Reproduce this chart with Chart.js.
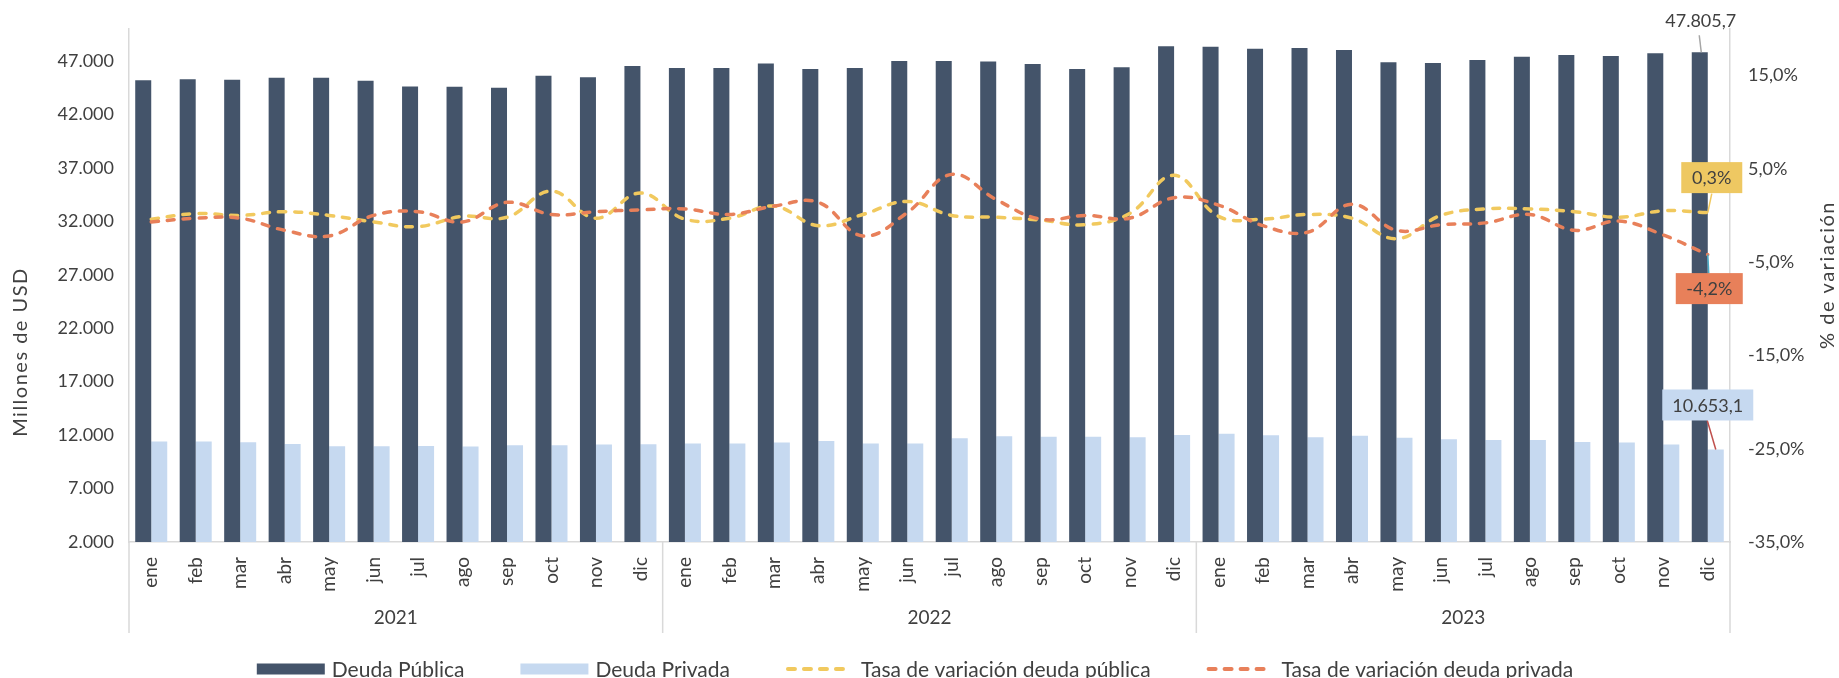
<!DOCTYPE html>
<html>
<head>
<meta charset="utf-8">
<script src="https://cdn.jsdelivr.net/npm/chart.js@4.4.0/dist/chart.umd.min.js"></script>
<style>
  html, body { margin: 0; padding: 0; background: #fff; }
</style>
</head>
<body>
<canvas id="deuda" width="1839" height="678"></canvas>
<script>
const meses = ['ene', 'feb', 'mar', 'abr', 'may', 'jun', 'jul', 'ago', 'sep', 'oct', 'nov', 'dic'];
const anios = ['2021', '2022', '2023'];

// millones de USD, ene 2021 - dic 2023
const deudaPublica = [
  45197, 45290, 45228, 45414, 45414, 45135, 44608, 44577, 44484, 45600, 45476, 46529,
  46343, 46343, 46746, 46250, 46343, 46994, 46994, 46932, 46715, 46250, 46405, 48358,
  48327, 48141, 48203, 48017, 46870, 46808, 47087, 47397, 47552, 47459, 47707, 47805.7
];
const deudaPrivada = [
  11389, 11389, 11327, 11172, 10955, 10955, 10987, 10924, 11048, 11048, 11110, 11141,
  11203, 11203, 11296, 11451, 11203, 11203, 11699, 11885, 11854, 11854, 11792, 12009,
  12133, 11978, 11792, 11947, 11761, 11606, 11544, 11544, 11358, 11296, 11120, 10653.1
];
// % de variación mensual
const tasaPublica = [
  -0.4, 0.2, 0.0, 0.4, 0.0, -0.7, -1.2, -0.1, -0.2, 2.6, -0.3, 2.4,
  -0.4, -0.3, 1.0, -1.1, 0.1, 1.5, 0.0, -0.2, -0.5, -1.0, 0.2, 4.3,
  -0.1, -0.4, 0.1, -0.3, -2.5, 0.0, 0.7, 0.7, 0.4, -0.2, 0.5, 0.3
];
const tasaPrivada = [
  -0.7, -0.3, -0.3, -1.6, -2.2, 0.0, 0.4, -0.7, 1.4, 0.1, 0.4, 0.6,
  0.7, 0.1, 1.0, 1.4, -2.2, 0.3, 4.4, 1.7, -0.4, 0.0, -0.3, 1.9,
  1.1, -1.1, -1.8, 1.2, -1.6, -1.0, -0.8, 0.1, -1.6, -0.6, -2.1, -4.2
];

const ticksUSD = [2000, 7000, 12000, 17000, 22000, 27000, 32000, 37000, 42000, 47000];
const ticksPct = [-35, -25, -15, -5, 5, 15];

const categorias = anios.flatMap(() => meses);

const colPublica = '#44546A';
const colPrivada = '#C6D9F0';
const colTasaPub = '#F1C95E';
const colTasaPriv = '#E8805A';
const colTexto = '#404040';
const colEje = '#D9D9D9';
const fuente = 'Lato';

const fmtMiles = (v, dec = 0) => {
  const [ent, frac] = Math.abs(v).toFixed(dec).split('.');
  const s = ent.replace(/\B(?=(\d{3})+(?!\d))/g, '.');
  return (v < 0 ? '-' : '') + s + (frac ? ',' + frac : '');
};
const fmtPct = (v) => v.toFixed(1).replace('.', ',') + '%';

const setTicks = (valores) => (scale) => {
  scale.ticks = valores.map((v) => ({ value: v }));
};

// etiqueta con caja de color y línea guía
const etiquetaCaja = (ctx, texto, cx, cy, w, h, fondo) => {
  ctx.fillStyle = fondo;
  ctx.fillRect(cx - w / 2, cy - h / 2, w, h);
  ctx.fillStyle = colTexto;
  ctx.fillText(texto, cx, cy + 1);
};
const guia = (ctx, x1, y1, x2, y2, color) => {
  ctx.strokeStyle = color;
  ctx.lineWidth = 1.5;
  ctx.setLineDash([]);
  ctx.beginPath();
  ctx.moveTo(x1, y1);
  ctx.lineTo(x2, y2);
  ctx.stroke();
};
const tituloVertical = (ctx, texto, x, y) => {
  ctx.save();
  ctx.translate(x, y);
  ctx.rotate(-Math.PI / 2);
  ctx.fillText(texto, 0, 0);
  ctx.restore();
};

const extras = {
  id: 'extras',
  afterDraw(chart) {
    const { ctx, chartArea: area, scales: { x } } = chart;
    ctx.save();

    // separadores de año debajo del eje
    const bordes = [area.left];
    for (let i = 1; i < anios.length; i++) {
      const k = i * meses.length;
      bordes.push((x.getPixelForValue(k - 1) + x.getPixelForValue(k)) / 2);
    }
    bordes.push(area.right);
    ctx.strokeStyle = colEje;
    ctx.lineWidth = 1.5;
    bordes.forEach((bx) => {
      ctx.beginPath();
      ctx.moveTo(bx, area.bottom);
      ctx.lineTo(bx, area.bottom + 91);
      ctx.stroke();
    });

    ctx.fillStyle = colTexto;
    ctx.textAlign = 'center';
    ctx.textBaseline = 'middle';
    ctx.font = `19px ${fuente}`;
    anios.forEach((a, i) => ctx.fillText(a, (bordes[i] + bordes[i + 1]) / 2, area.bottom + 76));

    // títulos de ejes
    ctx.font = `20px ${fuente}`;
    ctx.letterSpacing = '1.5px';
    tituloVertical(ctx, 'Millones de USD', 21, 352);
    tituloVertical(ctx, '% de variación', 1828, 275);
    ctx.letterSpacing = '0px';

    // etiquetas del último mes
    const n = categorias.length - 1;
    const barPub = chart.getDatasetMeta(0).data[n];
    const barPriv = chart.getDatasetMeta(1).data[n];
    const ptPub = chart.getDatasetMeta(2).data[n];
    const ptPriv = chart.getDatasetMeta(3).data[n];

    ctx.font = `18px ${fuente}`;
    guia(ctx, barPub.x - 0.5, barPub.y - 17, barPub.x + 1.5, barPub.y, '#A6A6A6');
    ctx.fillStyle = colTexto;
    ctx.fillText(fmtMiles(deudaPublica[n], 1), barPub.x + 1, barPub.y - 31);

    guia(ctx, ptPub.x + 4, ptPub.y - 19, ptPub.x, ptPub.y, colTasaPub);
    etiquetaCaja(ctx, fmtPct(tasaPublica[n]), ptPub.x + 4, ptPub.y - 35, 61, 31, '#EEC862');

    guia(ctx, ptPriv.x, ptPriv.y, ptPriv.x + 1, ptPriv.y + 19, '#4BACC6');
    etiquetaCaja(ctx, fmtPct(tasaPrivada[n]), ptPriv.x + 1.5, ptPriv.y + 34, 67, 31, colTasaPriv);

    guia(ctx, barPriv.x - 8.5, barPriv.y - 29, barPriv.x, barPriv.y, '#C0504D');
    etiquetaCaja(ctx, fmtMiles(deudaPrivada[n], 1), barPriv.x - 8, barPriv.y - 44.5, 91, 31, colPrivada);

    // leyenda
    ctx.font = `21px ${fuente}`;
    ctx.textAlign = 'left';
    const muestra = 68, sep = 7, hueco = 56, yLey = 669;
    const items = chart.data.datasets.map((ds) => ({
      texto: ds.label,
      color: ds.type === 'line' ? ds.borderColor : ds.backgroundColor,
      linea: ds.type === 'line',
      ancho: muestra + sep + ctx.measureText(ds.label).width
    }));
    const total = items.reduce((s, it) => s + it.ancho, 0) + hueco * (items.length - 1);
    let lx = 915 - total / 2;
    items.forEach((it) => {
      if (it.linea) {
        ctx.strokeStyle = it.color;
        ctx.lineWidth = 4;
        ctx.lineCap = 'round';
        ctx.setLineDash([7, 9]);
        ctx.beginPath();
        ctx.moveTo(lx + 2, yLey);
        ctx.lineTo(lx + muestra - 2, yLey);
        ctx.stroke();
        ctx.setLineDash([]);
      } else {
        ctx.fillStyle = it.color;
        ctx.fillRect(lx, yLey - 5.5, muestra, 11);
      }
      ctx.fillStyle = colTexto;
      ctx.fillText(it.texto, lx + muestra + sep, yLey + 1);
      lx += it.ancho + hueco;
    });

    ctx.restore();
  }
};

const lineaTasa = {
  type: 'line',
  yAxisID: 'y1',
  borderWidth: 3.5,
  borderDash: [7, 9],
  borderCapStyle: 'round',
  tension: 0.4,
  pointRadius: 0,
  fill: false
};

new Chart(document.getElementById('deuda'), {
  type: 'bar',
  data: {
    labels: categorias,
    datasets: [
      {
        label: 'Deuda Pública',
        data: deudaPublica,
        backgroundColor: colPublica,
        yAxisID: 'y',
        order: 2,
        categoryPercentage: 0.72,
        barPercentage: 1.0
      },
      {
        label: 'Deuda Privada',
        data: deudaPrivada,
        backgroundColor: colPrivada,
        yAxisID: 'y',
        order: 2,
        categoryPercentage: 0.72,
        barPercentage: 1.0
      },
      { ...lineaTasa, label: 'Tasa de variación deuda pública', data: tasaPublica, borderColor: colTasaPub, order: 1 },
      { ...lineaTasa, label: 'Tasa de variación deuda privada', data: tasaPrivada, borderColor: colTasaPriv, order: 0 }
    ]
  },
  options: {
    responsive: false,
    animation: false,
    devicePixelRatio: 1,
    layout: { padding: { top: 26, left: 0, right: 0, bottom: 0 } },
    plugins: {
      legend: { display: false },
      tooltip: { enabled: false }
    },
    scales: {
      x: {
        grid: { display: false, drawTicks: false },
        border: { display: true, color: colEje, width: 1.5 },
        ticks: {
          autoSkip: false,
          maxRotation: 90,
          minRotation: 90,
          padding: 15,
          color: colTexto,
          font: { family: fuente, size: 19 }
        },
        afterFit: (scale) => { scale.height = 136; }
      },
      y: {
        position: 'left',
        min: 2000,
        max: 50000,
        afterBuildTicks: setTicks(ticksUSD),
        grid: { display: false, drawTicks: false },
        border: { display: true, color: colEje, width: 1.5 },
        ticks: {
          padding: 15,
          color: colTexto,
          font: { family: fuente, size: 18 },
          callback: (v) => fmtMiles(v)
        },
        afterFit: (scale) => { scale.width = 129; }
      },
      y1: {
        position: 'right',
        min: -35,
        max: 20,
        afterBuildTicks: setTicks(ticksPct),
        grid: { display: false, drawTicks: false },
        border: { display: true, color: colEje, width: 1.5 },
        ticks: {
          padding: 18,
          color: colTexto,
          font: { family: fuente, size: 18 },
          callback: (v) => fmtPct(v)
        },
        afterFit: (scale) => { scale.width = 109; }
      }
    }
  },
  plugins: [extras]
});
</script>
</body>
</html>
